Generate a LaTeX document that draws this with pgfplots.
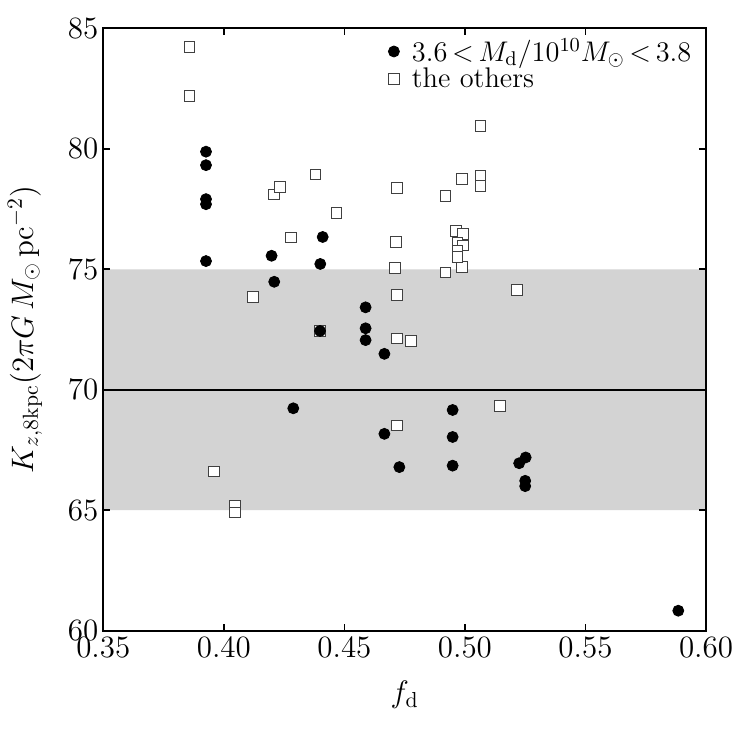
\RequirePackage{fix-cm}
\documentclass[border=0pt]{standalone}
\usepackage{pgfplots}
\pgfplotsset{compat=1.18}
\definecolor{bandgray}{HTML}{D3D3D3}
\begin{document}
\begin{tikzpicture}
\begin{axis}[
  scale only axis,
  width=301.35pt, height=301.2pt,
  xmin=0.35, xmax=0.60, ymin=60, ymax=85,
  xtick={0.35,0.40,0.45,0.50,0.55,0.60},
  ytick={60,65,70,75,80,85},
  xticklabel style={/pgf/number format/fixed,/pgf/number format/precision=2,/pgf/number format/fixed zerofill},
  tick label style={font=\fontsize{15.5}{18}\selectfont},
  yticklabel style={xshift=1pt},
  tick align=inside,
  major tick length=3.5pt,
  every tick/.style={black, line width=0.8pt},
  axis line style={black, line width=0.8pt},
  axis on top,
  xlabel={$f_{\mathrm{d}}$},
  ylabel={$K_{z,8\mathrm{kpc}}(2\pi G\,M_\odot\,\mathrm{pc}^{-2})$},
  label style={font=\fontsize{15.5}{18}\selectfont},
  xlabel style={at={(axis description cs:0.5,-0.107)}, anchor=center},
  ylabel style={at={(axis description cs:-0.13,0.5)}, anchor=center},
  legend style={at={(axis description cs:0.983,0.9905)}, anchor=north east,
    draw=none, fill=none, inner sep=0pt,
    font=\fontsize{14.2}{17}\selectfont, row sep=-2.3pt,
    nodes={inner sep=2pt}},
  legend cell align=left,
  reverse legend,
  legend image code/.code={\draw[mark repeat=2,mark phase=2,#1] plot coordinates {(-1pt,0pt) (0pt,0pt) (1pt,0pt)}; \path[draw=none,fill=none] (-3pt,0pt) (7pt,0pt);},
]
\addplot[fill=bandgray, draw=none, forget plot] coordinates {(0.35,65) (0.60,65) (0.60,75) (0.35,75)} \closedcycle;
\addplot[black, line width=0.9pt, forget plot] coordinates {(0.35,70) (0.60,70)};
\addplot[only marks, mark=square*, mark size=2.65pt, mark options={solid, fill=white, draw=black!75, line width=0.5pt}] coordinates {
(0.3857,84.23) (0.3857,82.20) (0.4209,78.11) (0.4233,78.42) (0.4381,78.94)
(0.4468,77.34) (0.4279,76.32) (0.4120,73.86) (0.4399,72.44) (0.3960,66.60)
(0.4046,65.19) (0.4046,64.91) (0.5065,80.94) (0.4987,78.74) (0.5065,78.87)
(0.5065,78.46) (0.4717,78.36) (0.4920,78.04) (0.4713,76.14) (0.4709,75.04)
(0.4719,73.93) (0.4920,74.86) (0.4987,75.10) (0.5215,74.14) (0.4962,76.60)
(0.4991,76.46) (0.4970,76.10) (0.4993,75.98) (0.4970,75.77) (0.4970,75.52)
(0.4719,72.13) (0.4776,72.02) (0.5145,69.32) (0.4719,68.52)
};
\addlegendentry{the others}
\addplot[only marks, mark=*, mark size=2.75pt, mark options={fill=black, draw=black}] coordinates {
(0.3926,79.88) (0.3926,79.32) (0.3926,77.91) (0.3926,77.70) (0.3926,75.34)
(0.4198,75.56) (0.4209,74.48) (0.4410,76.34) (0.4400,75.22) (0.4399,72.44)
(0.4588,73.42) (0.4588,72.55) (0.4588,72.06) (0.4666,71.49) (0.4288,69.23)
(0.4949,69.16) (0.4666,68.17) (0.4949,68.04) (0.4728,66.79) (0.4949,66.85)
(0.5225,66.95) (0.5252,67.19) (0.5250,66.22) (0.5250,66.00) (0.5885,60.83)
};
\addlegendentry{{\thickmuskip=3mu $3.6<M_{\mathrm{d}}/10^{10}M_\odot<3.8$}}
\end{axis}
\path ([shift={(-51.65pt,-48.65pt)}]current axis.south west) rectangle ([shift={(20.5pt,14.15pt)}]current axis.north east);
\end{tikzpicture}
\end{document}
